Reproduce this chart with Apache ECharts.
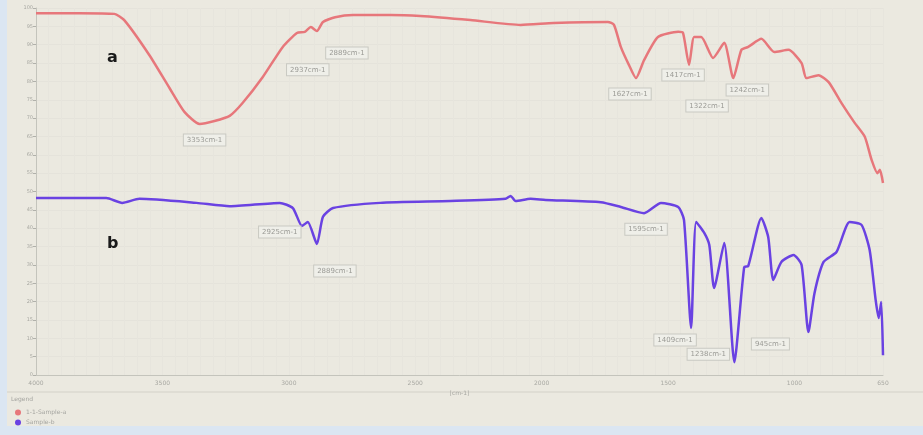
<!DOCTYPE html>
<html>
<head>
<meta charset="utf-8">
<script src="https://cdn.jsdelivr.net/npm/echarts@6/dist/echarts.min.js"></script>
<style>
  html, body { margin: 0; padding: 0; background: #dbe6f2; }
  #chart { position: absolute; left: 7px; top: 0; width: 916px; height: 426px; background: #ebe9e0; }
</style>
</head>
<body>
<div id="chart"></div>
<script>
// wavenumber (cm-1) / transmittance-style values
const waveA = [4000, 3829, 3690, 3651, 3552, 3472, 3413, 3353, 3294, 3234, 3183, 3103, 3024, 2968, 2937, 2913, 2889, 2865, 2817, 2746, 2599, 2480, 2282, 2083, 1953, 1738, 1714, 1687, 1655, 1627, 1595, 1540, 1460, 1441, 1417, 1397, 1369, 1322, 1278, 1242, 1210, 1183, 1131, 1080, 1024, 972, 953, 905, 865, 814, 762, 722, 695, 672, 662, 650];
const valA  = [98.6, 98.6, 98.4, 96.7, 87.2, 78.2, 71.7, 68.4, 69.2, 70.6, 74.1, 81.2, 89.4, 93.2, 93.5, 94.8, 93.7, 96.2, 97.5, 98.1, 98.1, 97.8, 96.7, 95.4, 95.9, 96.2, 95.4, 89.4, 84.5, 80.9, 85.8, 92.1, 93.5, 93.2, 84.5, 92.1, 92.1, 86.4, 90.5, 80.9, 88.6, 89.4, 91.6, 88.0, 88.6, 85.0, 80.9, 81.7, 79.8, 74.1, 68.7, 64.9, 58.6, 55.0, 55.9, 52.3];

const waveB = [4000, 3722, 3659, 3591, 3365, 3234, 3036, 2984, 2948, 2925, 2889, 2865, 2825, 2639, 2361, 2143, 2123, 2103, 2044, 1984, 1766, 1687, 1595, 1528, 1460, 1437, 1409, 1389, 1357, 1337, 1318, 1278, 1238, 1199, 1183, 1131, 1104, 1084, 1052, 1004, 972, 945, 921, 885, 834, 782, 735, 703, 679, 667, 657, 650];
const valB  = [48.2, 48.2, 46.9, 48.0, 46.9, 46.0, 46.9, 45.5, 40.6, 41.7, 35.7, 43.1, 45.5, 46.9, 47.4, 48.0, 48.8, 47.4, 48.0, 47.7, 47.1, 45.8, 44.1, 46.9, 45.8, 42.2, 12.8, 41.7, 38.7, 35.4, 23.7, 36.0, 3.5, 29.4, 29.7, 42.8, 37.6, 25.9, 30.8, 32.7, 30.0, 11.7, 22.3, 30.8, 33.5, 41.7, 40.9, 34.1, 20.4, 15.5, 19.9, 5.4];

const xTicks = [4000, 3500, 3000, 2500, 2000, 1500, 1000, 650];

// peaks that carry a label box
const peaksA = [3353, 2937, 2889, 1627, 1417, 1322, 1242];
const peaksB = [2925, 2889, 1595, 1409, 1238, 945];

const pairs = (w, v) => w.map((x, i) => [x, v[i]]);

function peakMarks(wave, vals, peaks, offsets) {
  return peaks.map((p, i) => {
    const k = wave.indexOf(p);
    return {
      coord: [p, vals[k]],
      value: p + 'cm-1',
      label: { offset: offsets[i] }
    };
  });
}

const markLabel = {
  show: true,
  formatter: '{c}',
  fontSize: 7,
  color: '#9a9a95',
  backgroundColor: '#efefe9',
  borderColor: '#c9c9c2',
  borderWidth: 1,
  padding: [2, 3]
};

const letterStyle = { fontFamily: 'DejaVu Sans', fontWeight: 'bold', fontSize: 16, color: '#1a1a1a' };

const chart = echarts.init(document.getElementById('chart'));
chart.setOption({
  animation: false,
  backgroundColor: '#ebe9e0',
  textStyle: { fontFamily: 'DejaVu Sans' },
  title: [
    { text: 'a', left: 100, top: 50, padding: 0, textStyle: letterStyle },
    { text: 'b', left: 100, top: 236, padding: 0, textStyle: letterStyle },
    { text: 'Legend', left: 4, top: 396, padding: 0, textStyle: { fontFamily: 'DejaVu Sans', fontSize: 6, fontWeight: 'normal', color: '#a5a5a0' } }
  ],
  grid: { left: 29, right: 40, top: 8, bottom: 51 },
  legend: {
    orient: 'vertical',
    left: 3,
    top: 404,
    height: 40,
    itemWidth: 6,
    itemHeight: 6,
    itemGap: 3,
    icon: 'circle',
    textStyle: { fontSize: 6, color: '#a5a5a0', lineHeight: 7 },
    data: ['1-1-Sample-a', 'Sample-b']
  },
  xAxis: {
    type: 'value',
    inverse: true,
    min: 650,
    max: 4000,
    interval: 50,
    name: '[cm-1]',
    nameLocation: 'middle',
    nameGap: 11,
    nameTextStyle: { fontSize: 6, color: '#a8a8a2' },
    axisLine: { lineStyle: { color: '#c4c4bc' } },
    axisTick: { show: false },
    axisLabel: { customValues: xTicks, fontSize: 6, color: '#a8a8a2', margin: 5, formatter: v => String(v) },
    splitLine: { lineStyle: { color: '#e7e5dd', width: 1 } }
  },
  yAxis: {
    type: 'value',
    min: 0,
    max: 100,
    interval: 5,
    axisLine: { show: true, lineStyle: { color: '#c4c4bc' } },
    axisTick: { show: true, length: 3, lineStyle: { color: '#b0b0aa' } },
    axisLabel: { fontSize: 5, color: '#a8a8a2', margin: 3 },
    splitLine: { lineStyle: { color: '#e5e3db' } }
  },
  graphic: [
    { type: 'line', shape: { x1: 0, y1: 392, x2: 916, y2: 392 }, style: { stroke: '#d3d1c8', lineWidth: 1 } }
  ],
  series: [
    {
      name: '1-1-Sample-a',
      type: 'line',
      data: pairs(waveA, valA),
      showSymbol: false,
      smooth: 0.2,
      lineStyle: { color: '#e7777b', width: 2.5 },
      itemStyle: { color: '#e7777b' },
      markPoint: {
        symbol: 'circle',
        symbolSize: 0,
        label: markLabel,
        data: peakMarks(waveA, valA, peaksA, [[5, 16], [3, 38], [30, 22], [-6, 16], [-6, 10], [-6, 48], [14, 12]])
      }
    },
    {
      name: 'Sample-b',
      type: 'line',
      data: pairs(waveB, valB),
      showSymbol: false,
      smooth: 0.2,
      lineStyle: { color: '#6a42e2', width: 2.5 },
      itemStyle: { color: '#6a42e2' },
      markPoint: {
        symbol: 'circle',
        symbolSize: 0,
        label: markLabel,
        data: peakMarks(waveB, valB, peaksB, [[-28, 10], [18, 27], [2, 16], [-16, 12], [-26, -8], [-38, 12]])
      }
    }
  ]
});
</script>
</body>
</html>
